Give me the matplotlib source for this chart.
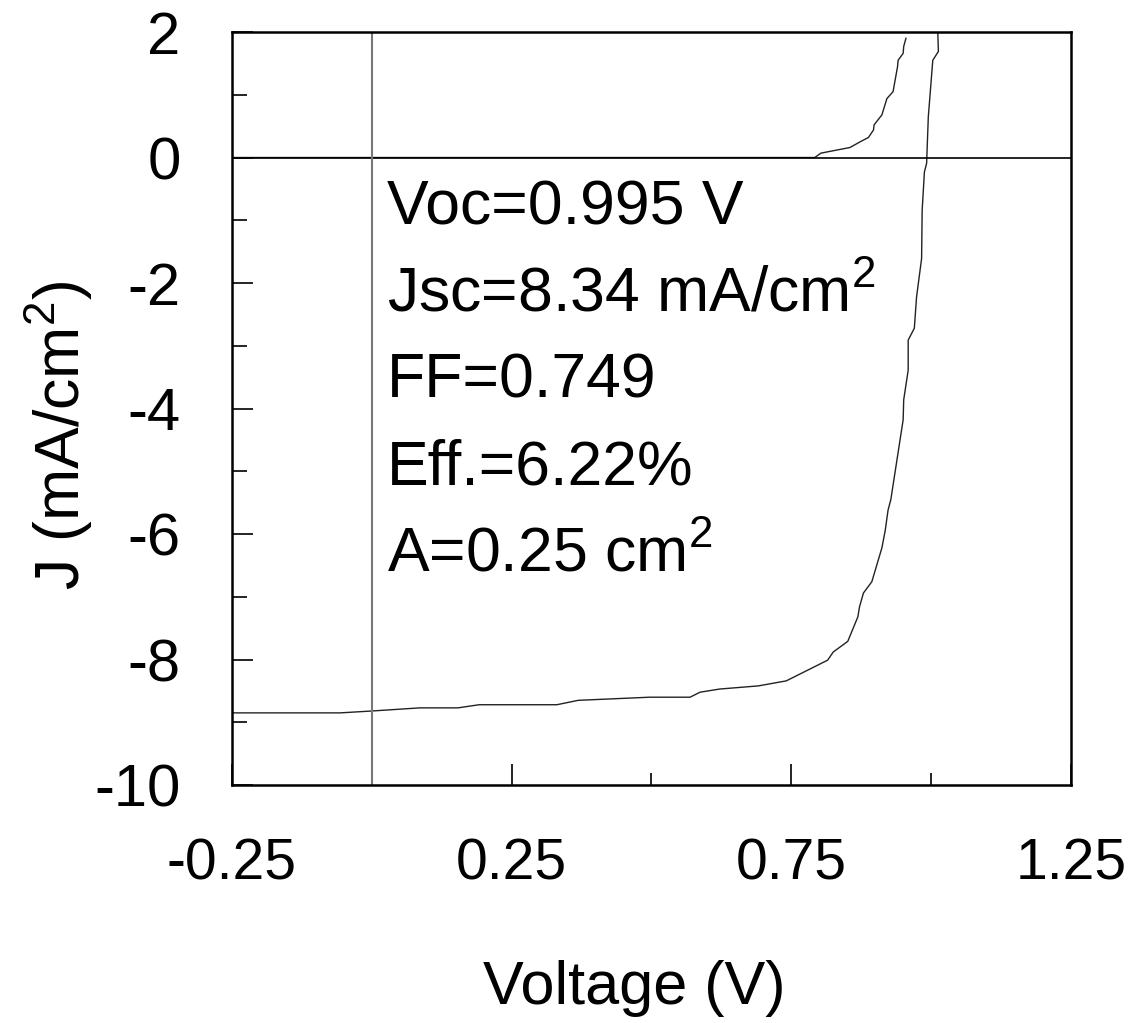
import matplotlib
matplotlib.use('Agg')
import matplotlib.pyplot as plt
from matplotlib.ticker import MultipleLocator, FixedLocator

plt.rcParams['font.family'] = ['Liberation Sans', 'DejaVu Sans']
plt.rcParams['mathtext.fontset'] = 'custom'
plt.rcParams['mathtext.rm'] = 'Liberation Sans'
plt.rcParams['mathtext.it'] = 'Liberation Sans'
plt.rcParams['axes.unicode_minus'] = False

# illuminated J-V curve (V, mA/cm2)
light_v = [-0.25, -0.057, 0.0, 0.086, 0.154, 0.192, 0.331, 0.369, 0.497, 0.569,
           0.587, 0.622, 0.691, 0.741, 0.815, 0.825, 0.851, 0.869, 0.872, 0.879,
           0.894, 0.912, 0.918, 0.923, 0.928, 0.950, 0.951, 0.959, 0.959, 0.970,
           0.974, 0.983, 0.984, 0.988, 0.992, 0.993, 0.995, 1.003, 1.013, 1.012]
light_j = [-8.85, -8.85, -8.82, -8.77, -8.77, -8.72, -8.72, -8.65, -8.60, -8.60,
           -8.52, -8.47, -8.42, -8.34, -8.01, -7.88, -7.71, -7.32, -7.16, -6.94,
           -6.76, -6.22, -5.94, -5.62, -5.45, -4.18, -3.86, -3.39, -2.91, -2.72,
           -2.22, -1.61, -0.84, -0.23, -0.09, 0.17, 0.65, 1.55, 1.69, 1.98]

# dark J-V curve
dark_v = [-0.25, 0.0, 0.5, 0.792, 0.803, 0.855, 0.873, 0.888, 0.897, 0.898,
          0.912, 0.921, 0.932, 0.940, 0.941, 0.950, 0.951, 0.955]
dark_j = [0.0, 0.0, 0.0, 0.0, 0.07, 0.16, 0.25, 0.32, 0.44, 0.52,
          0.68, 0.94, 1.05, 1.45, 1.55, 1.66, 1.77, 1.90]

params = ['Voc=0.995 V', 'Jsc=8.34 mA/cm$^2$', 'FF=0.749', 'Eff.=6.22%', 'A=0.25 cm$^2$']

fig = plt.figure(figsize=(11.41, 10.23), dpi=100)
ax = fig.add_axes([0.2033, 0.2326, 0.9386 - 0.2033, 0.9687 - 0.2326])

ax.plot(light_v, light_j, color='#222222', lw=1.0)
ax.plot(dark_v, dark_j, color='#222222', lw=1.0)
ax.axhline(0, color='black', lw=1.2)
ax.axvline(0, color='#777777', lw=1.5)

ax.set_xlim(-0.25, 1.25)
ax.set_ylim(-10, 2)

ax.xaxis.set_major_locator(FixedLocator([-0.25, 0.25, 0.75, 1.25]))
ax.xaxis.set_minor_locator(FixedLocator([0.0, 0.5, 1.0]))
ax.set_xticklabels(['-0.25', '0.25', '0.75', '1.25'])
ax.yaxis.set_major_locator(MultipleLocator(2))
ax.yaxis.set_minor_locator(MultipleLocator(1))

ax.tick_params(which='both', direction='in', top=False, right=False, width=1.2, color='black')
ax.tick_params(axis='x', which='major', length=15, labelsize=41, pad=38)
ax.tick_params(axis='x', which='minor', length=9)
ax.tick_params(axis='y', which='major', length=15, labelsize=43, pad=37)
ax.tick_params(axis='y', which='minor', length=11)

for s in ax.spines.values():
    s.set_linewidth(1.8)

ax.set_xlabel('Voltage (V)', fontsize=44)
ax.set_ylabel('J (mA/cm$^2$)', fontsize=45)
ax.xaxis.set_label_coords(0.48, -0.232)
ax.yaxis.set_label_coords(-0.163, 0.465)

for i, t in enumerate(params):
    ax.text(0.185, 0.744 - i * 0.115, t, transform=ax.transAxes, fontsize=45, va='baseline', ha='left')

fig.savefig('out.png', dpi=100)
